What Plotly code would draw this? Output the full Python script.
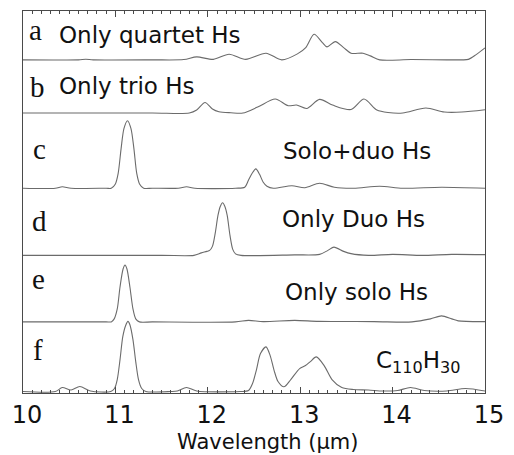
import plotly.graph_objects as go

# ---- spectra: wavelength (um) and relative intensity (arbitrary units) ----
a_wl = [10.00, 10.60, 10.68, 10.76, 11.40, 11.74, 11.88, 12.06, 12.23, 12.41, 12.63, 12.80,
        12.97, 13.06, 13.15, 13.24, 13.29, 13.38, 13.47, 13.55, 13.68, 13.76, 13.86, 14.20,
        14.75, 14.82, 14.90, 15.00]
a_int = [0, 0, 0.6, 0, 0, 0.3, 3, 0.5, 5.7, 0.5, 6.7, 0,
         6, 12.3, 25.7, 17.3, 13, 18.3, 12.3, 6.7, 6.7, 4, 0, 0.3,
         0, 0.5, 5, 12]

b_wl = [10.00, 11.40, 11.80, 11.88, 11.97, 12.05, 12.12, 12.25, 12.38, 12.54, 12.73, 12.87,
        12.96, 13.07, 13.21, 13.35, 13.55, 13.69, 13.83, 13.95, 14.11, 14.36, 14.56, 14.75, 15.00]
b_int = [0, 0, 0, 3, 10.5, 4, 1.3, 0.3, 0, 6, 14, 7.3,
         8, 4.6, 13.7, 8, 3.5, 14, 3, 0.5, 0, 5, 1, 1, 3.3]

c_wl = [10.00, 10.35, 10.425, 10.52, 10.90, 10.955, 10.998, 11.030, 11.062, 11.093, 11.131,
        11.168, 11.200, 11.231, 11.263, 11.306, 11.40, 11.68, 11.77, 11.86, 12.30, 12.40,
        12.44, 12.48, 12.52, 12.56, 12.60, 12.64, 12.71, 12.91, 13.05, 13.21, 13.37, 13.58,
        13.86, 14.11, 14.53, 15.00]
c_int = [0, 0, 1.5, 0, 0, 0, 4, 15, 40, 60, 67.7,
         60, 40, 15, 4, 0, 0, 0, 1.5, 0, 0, 1,
         8, 15, 19.4, 14, 6, 2, 0, 2.5, 0.5, 5, 1, 0,
         2, 0, 1, 0]

d_wl = [10.00, 11.50, 11.85, 11.93, 11.99, 12.02, 12.05, 12.08, 12.11, 12.135, 12.16, 12.185,
        12.21, 12.24, 12.27, 12.30, 12.36, 12.94, 13.21, 13.30, 13.365, 13.47, 13.55, 13.74,
        14.00, 14.32, 14.64, 15.00]
d_int = [0, 0, 0, 2.5, 4, 5, 9, 22, 40, 49, 52.7, 49,
         40, 20, 6, 1.5, 0, 0.5, 1, 5, 8.3, 4, 1.7, 0,
         1, 0, 1, 0.7]

e_wl = [10.00, 10.90, 10.955, 10.987, 11.02, 11.05, 11.083, 11.104, 11.125, 11.157, 11.19,
        11.22, 11.26, 11.40, 12.30, 12.44, 12.60, 12.94, 13.20, 13.80, 14.21, 14.41, 14.53,
        14.64, 14.71, 15.00]
e_int = [0, 0, 0, 3, 13, 35, 53, 57, 53, 35, 13,
         3, 0, 0, 0, 1.5, 0.3, 1.5, 0.5, 0.3, 0, 3, 6,
         3, 1, 0.3]

f_wl = [10.00, 10.35, 10.425, 10.52, 10.615, 10.73, 10.95, 10.99, 11.02, 11.05, 11.08, 11.11,
        11.136, 11.157, 11.19, 11.22, 11.25, 11.285, 11.33, 11.60, 11.67, 11.77, 11.88, 12.35,
        12.44, 12.484, 12.527, 12.57, 12.63, 12.675, 12.718, 12.76, 12.824, 12.898, 12.994,
        13.057, 13.11, 13.174, 13.259, 13.344, 13.45, 13.577, 13.737, 13.896, 14.055, 14.193,
        14.342, 14.586, 14.788, 15.00]
f_int = [0, 0, 4, 1.5, 5, 0.5, 0, 3, 12, 32, 55, 66,
         70.3, 67, 52, 30, 12, 3, 0, 0, 0.5, 4, 0.5, 0,
         1, 8, 22, 38, 44.7, 36, 21, 10, 4.7, 12, 23,
         26, 30, 34.7, 26, 12, 4, 2, 1.5, 0.5, 1, 4,
         1, 0.5, 3, 0.5]

panel_letters = ["a", "b", "c", "d", "e", "f"]
panel_titles = ["Only quartet Hs", "Only trio Hs", "Solo+duo Hs", "Only Duo Hs",
                "Only solo Hs", "C<sub>110</sub>H<sub>30</sub>"]
x_ticks = [10, 11, 12, 13, 14, 15]

# ---- layout constants ----
W, H = 514, 455
L, R, T, B = 23, 20, 10, 62          # plot-area margins in pixels
Y_SPAN = H - T - B                   # y axis spans one unit per pixel
baselines = [334, 280.7, 205.3, 138, 71.3, 1.5]   # vertical stacking of the traces

LINE = "#6b6b6b"
FRAME = "#4a4a4a"
SANS = "DejaVu Sans"
SERIF = "Liberation Serif"


def fx(px):
    return (px - L) / (W - L - R)


def fy(py):
    return (H - B - py) / Y_SPAN


spectra = [(a_wl, a_int), (b_wl, b_int), (c_wl, c_int),
           (d_wl, d_int), (e_wl, e_int), (f_wl, f_int)]

fig = go.Figure()
for (wl, inten), base in zip(spectra, baselines):
    fig.add_trace(go.Scatter(
        x=wl, y=[base + v for v in inten], mode="lines",
        line=dict(color=LINE, width=1.1, shape="spline", smoothing=0.8),
        hoverinfo="skip", showlegend=False))

# panel letters (serif) and descriptions (sans)
letter_pos = [(27, 29), (28, 86), (31, 148), (30, 221), (30, 279), (31, 350)]
title_pos = [(58, 34), (58, 85), (286, 150), (285, 219), (288, 292), (381, 362)]
for letter, (px, py) in zip(panel_letters, letter_pos):
    fig.add_annotation(x=fx(px), y=fy(py), xref="paper", yref="paper", text=letter,
                       showarrow=False, xanchor="left", yanchor="middle",
                       font=dict(family=SERIF, size=29, color="#111"))
for title, (px, py) in zip(panel_titles, title_pos):
    fig.add_annotation(x=fx(px), y=fy(py), xref="paper", yref="paper", text=title,
                       showarrow=False, xanchor="left", yanchor="middle",
                       font=dict(family=SANS, size=23, color="#111"))

# axis title
fig.add_annotation(x=fx(272), y=fy(442), xref="paper", yref="paper",
                   text="Wavelength (\u03bcm)", showarrow=False,
                   xanchor="center", yanchor="middle",
                   font=dict(family=SANS, size=21, color="#111"))

fig.update_xaxes(
    range=[10, 15], tickvals=x_ticks, ticktext=[str(t) for t in x_ticks],
    ticks="inside", ticklen=6, tickwidth=1, tickcolor=FRAME,
    minor=dict(dtick=0.1, ticks="inside", ticklen=3, tickwidth=1, tickcolor=FRAME),
    showline=True, linecolor=FRAME, linewidth=1, mirror="allticks",
    showgrid=False, zeroline=False, ticklabelshift=4,
    tickfont=dict(family=SANS, size=24, color="#111"))
fig.update_yaxes(
    range=[0, Y_SPAN], showticklabels=False, ticks="",
    showline=True, linecolor=FRAME, linewidth=1, mirror=True,
    showgrid=False, zeroline=False)

fig.update_layout(
    width=W, height=H, autosize=False,
    margin=dict(l=L, r=R, t=T, b=B, pad=0),
    paper_bgcolor="white", plot_bgcolor="white")

fig.write_html("out.html")
